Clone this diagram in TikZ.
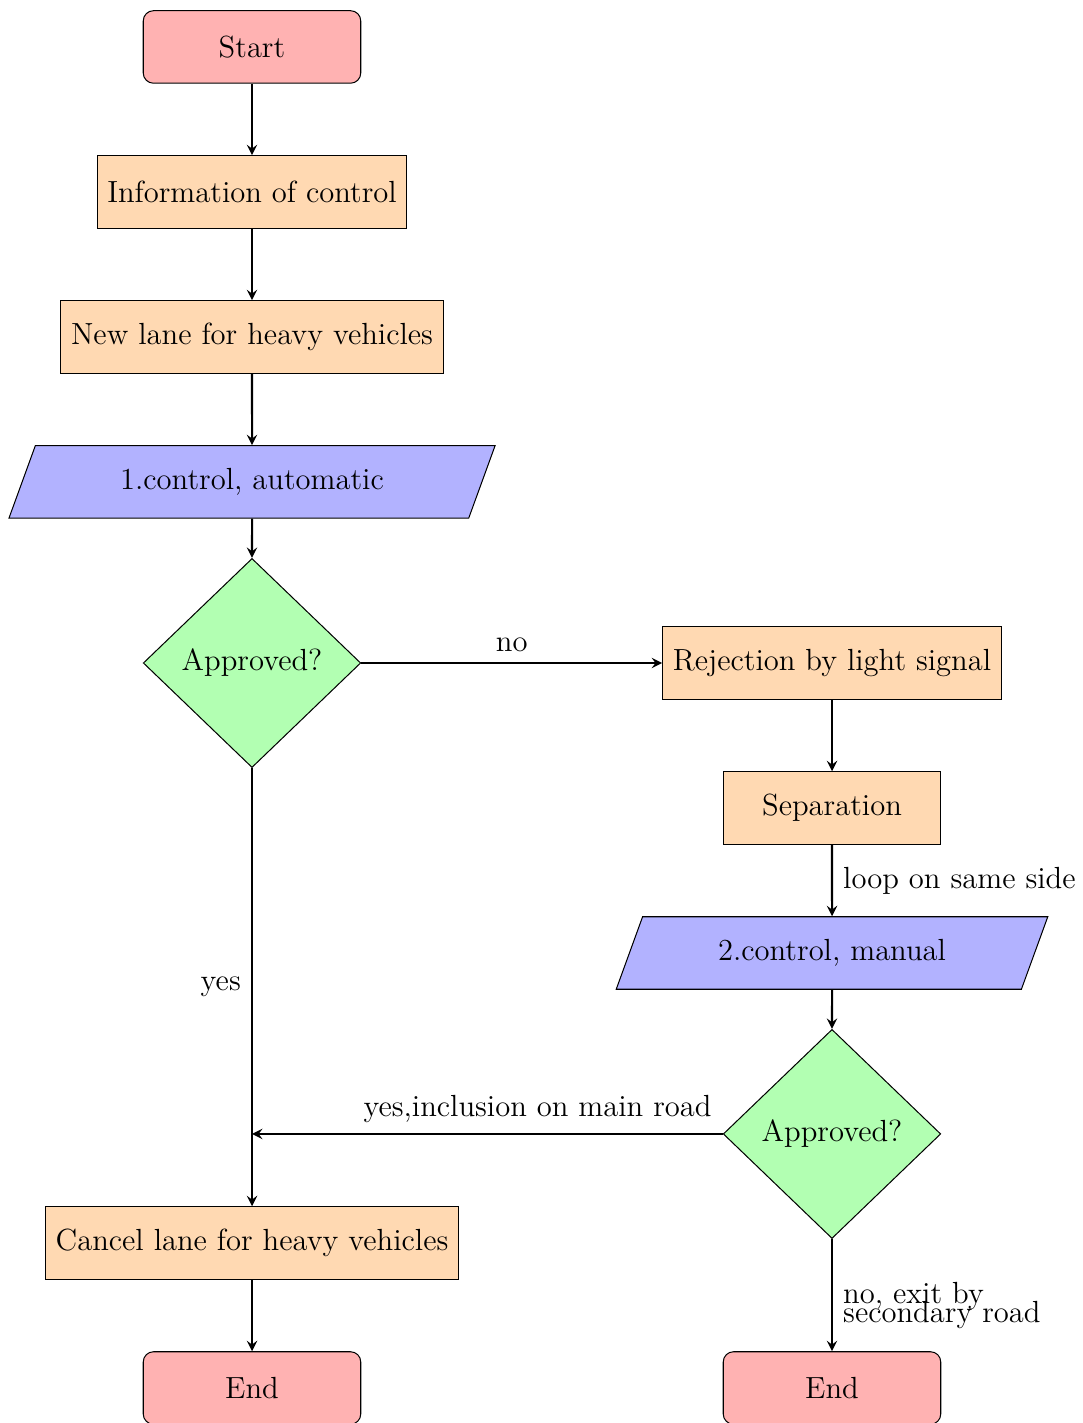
\documentclass[tikz,border=0pt,12pt]{standalone}
\usetikzlibrary{shapes.geometric,arrows.meta}
\tikzset{
 startstop/.style={rectangle, rounded corners, minimum width=3cm, minimum height=1cm, text centered, draw=black, fill=red!30},
 io/.style={trapezium, trapezium left angle=70, trapezium right angle=110, minimum width=3cm, minimum height=1cm, text centered, draw=black, fill=blue!30},
 process/.style={rectangle, minimum width=3cm, minimum height=1cm, text centered, draw=black, fill=orange!30},
 decision/.style={diamond, minimum width=3cm, minimum height=1cm, text centered, draw=black, fill=green!30},
 arrow/.style={thick,->,>=stealth}
}
\begin{document}
\begin{tikzpicture}
\useasboundingbox (-3.476,0.648) rectangle (11.462,-18.98);
\node[startstop] (start) at (0,0) {Start};
\node[process] (info) at (0,-2) {Information of control};
\node[process] (newlane) at (0,-4) {New lane for heavy vehicles};
\node[io] (ctrl1) at (0,-6) {1.control, automatic};
\node[decision] (dec1) at (0,-8.497) {Approved?};
\node[process] (rej) at (8,-8.497) {Rejection by light signal};
\node[process] (sep) at (8,-10.497) {Separation};
\node[io] (ctrl2) at (8,-12.497) {2.control, manual};
\node[decision] (dec2) at (8,-14.993) {Approved?};
\node[process] (cancel) at (0,-16.497) {Cancel lane for heavy vehicles};
\node[startstop] (end1) at (0,-18.497) {End};
\node[startstop] (end2) at (8,-18.497) {End};
\coordinate (join) at (dec2.west -| dec1.south);

\draw[arrow] (start) -- (info);
\draw[arrow] (info) -- (newlane);
\draw[arrow] (newlane) -- (ctrl1);
\draw[arrow] (ctrl1) -- (dec1);
\draw[arrow] (dec1) -- node[above] {no} (rej);
\draw[arrow] (dec1) -- node[left] {yes} (cancel);
\draw[arrow] (rej) -- (sep);
\draw[arrow] (sep) -- node[right] {loop on same side} (ctrl2);
\draw[arrow] (ctrl2) -- (dec2);
\draw[arrow] (dec2) -- node[pos=0, above left] {yes,inclusion on main road} (join);
\draw[arrow] (dec2) -- node[right, align=left, yshift=-0.14cm] {no, exit by\\[-7pt]secondary road} (end2);
\draw[arrow] (cancel) -- (end1);
\end{tikzpicture}
\end{document}
